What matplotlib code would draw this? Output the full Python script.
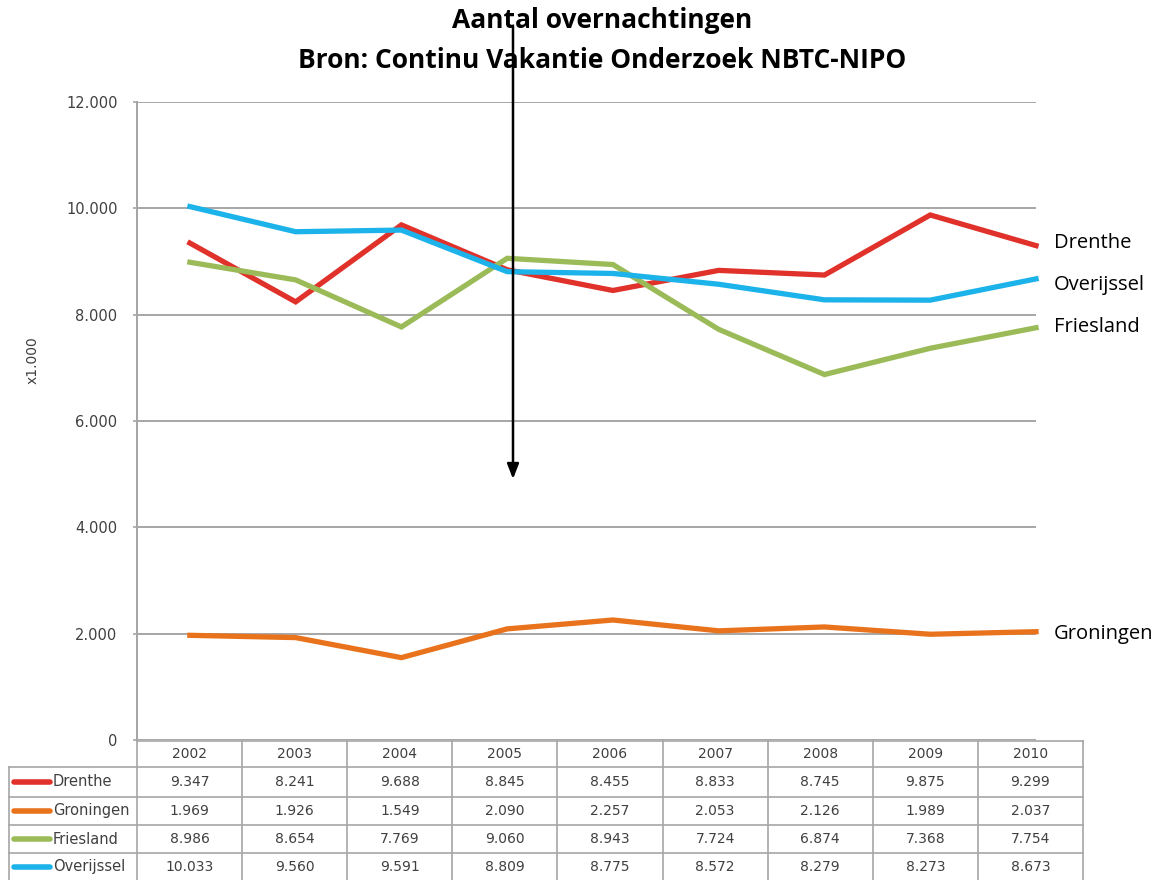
import matplotlib
matplotlib.use("Agg")
import matplotlib.pyplot as plt
from matplotlib.ticker import FixedLocator

years = [2002, 2003, 2004, 2005, 2006, 2007, 2008, 2009, 2010]
provinces = ["Drenthe", "Groningen", "Friesland", "Overijssel"]
drenthe = [9347, 8241, 9688, 8845, 8455, 8833, 8745, 9875, 9299]
groningen = [1969, 1926, 1549, 2090, 2257, 2053, 2126, 1989, 2037]
friesland = [8986, 8654, 7769, 9060, 8943, 7724, 6874, 7368, 7754]
overijssel = [10033, 9560, 9591, 8809, 8775, 8572, 8279, 8273, 8673]
yticks = [0, 2000, 4000, 6000, 8000, 10000, 12000]

series = [drenthe, groningen, friesland, overijssel]
colors = ["#e0312a", "#e9731c", "#9bbb59", "#1cb2ea"]
GRID = "#a6a6a6"
TXT = "#404040"

W, H = 1158, 880
fig = plt.figure(figsize=(W / 100, H / 100), dpi=100)
fig.patch.set_facecolor("white")


def fx(px):
    return px / W


def fy(py):
    return 1 - py / H


def dotted(v):
    return f"{v:,}".replace(",", ".")


# chart area
left, right, top, bottom = 137, 1036, 102, 740
ax = fig.add_axes([fx(left), fy(bottom), fx(right - left), (bottom - top) / H])
ax.set_xlim(-0.5, len(years) - 1)
ax.set_ylim(0, 12000)
ax.yaxis.set_major_locator(FixedLocator(yticks))
ax.set_yticklabels([dotted(v) for v in yticks])
ax.set_xticks([])
ax.grid(axis="y", color=GRID, lw=1.4)
ax.set_axisbelow(True)
for s in ("top", "right", "bottom"):
    ax.spines[s].set_visible(False)
ax.spines["left"].set_color(GRID)
ax.spines["left"].set_linewidth(1.4)
ax.tick_params(axis="y", colors=GRID, length=3, width=1.2, labelsize=10.5,
               labelcolor=TXT, pad=11)
fig.text(fx(33), fy(360), "x1.000", rotation=90, fontsize=10, color=TXT,
         ha="center", va="center")

xs = list(range(len(years)))
for vals, c in zip(series, colors):
    ax.plot(xs, vals, color=c, lw=3.8, solid_joinstyle="miter", clip_on=False,
            zorder=3)

# series names at the right end
label_pos = {"Drenthe": 243, "Overijssel": 285, "Friesland": 327, "Groningen": 634}
for name, py in label_pos.items():
    fig.text(fx(1054), fy(py), name, fontsize=14.5, color="black",
             family="Open Sans", va="center", ha="left")

# title
fig.text(fx(602), fy(20), "Aantal overnachtingen", ha="center", va="center",
         fontsize=19, fontweight="bold", family="Open Sans")
fig.text(fx(602), fy(60), "Bron: Continu Vakantie Onderzoek NBTC-NIPO",
         ha="center", va="center", fontsize=19, fontweight="bold",
         family="Open Sans")

# data table below the chart
tab = fig.add_axes([0, 0, 1, 1], facecolor="none")
tab.set_xlim(0, W)
tab.set_ylim(H, 0)
tab.axis("off")
col_w = (1083 - left) / len(years)
col_edges = [left + i * col_w for i in range(len(years) + 1)]
row_edges = [741, 767, 797, 825, 853, 881]
lw = 1.2
tab.plot([left, col_edges[-1]], [row_edges[0]] * 2, color=GRID, lw=lw)
for y in row_edges[1:]:
    tab.plot([9, col_edges[-1]], [y, y], color=GRID, lw=lw)
for x in col_edges:
    tab.plot([x, x], [row_edges[0] if x != left else top, row_edges[-1]],
             color=GRID, lw=lw)
tab.plot([9, 9], [row_edges[1], row_edges[-1]], color=GRID, lw=lw)

for i, yr in enumerate(years):
    cx = (col_edges[i] + col_edges[i + 1]) / 2
    tab.text(cx, (row_edges[0] + row_edges[1]) / 2, str(yr), ha="center",
             va="center", fontsize=10, color=TXT)
for r, (name, vals, c) in enumerate(zip(provinces, series, colors)):
    cy = (row_edges[r + 1] + row_edges[r + 2]) / 2
    tab.plot([14, 50], [cy, cy], color=c, lw=4, solid_capstyle="round")
    tab.text(53, cy, name, ha="left", va="center", fontsize=10.5, color=TXT)
    for i, v in enumerate(vals):
        cx = (col_edges[i] + col_edges[i + 1]) / 2
        tab.text(cx, cy, dotted(v), ha="center", va="center",
                 fontsize=10, color=TXT)

# annotation arrow
tab.annotate("", xy=(513, 479), xytext=(513, 27),
             arrowprops=dict(arrowstyle="-|>,head_length=0.9,head_width=0.35",
                             color="black", lw=1.8, shrinkA=0, shrinkB=0))

fig.savefig("out.png", dpi=100, facecolor="white")
